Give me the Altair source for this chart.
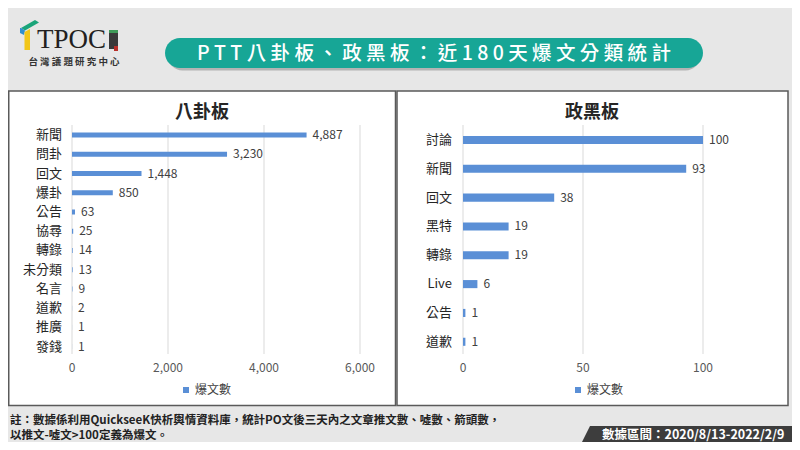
import altair as alt
import pandas as pd

# ---------------- data ----------------
bagua_categories = ["新聞", "問卦", "回文", "爆卦", "公告", "協尋", "轉錄", "未分類", "名言", "道歉", "推廣", "發錢"]
bagua_values = [4887, 3230, 1448, 850, 63, 25, 14, 13, 9, 2, 1, 1]
bagua_ticks = [0, 2000, 4000, 6000]

zhenghei_categories = ["討論", "新聞", "回文", "黑特", "轉錄", "Live", "公告", "道歉"]
zhenghei_values = [100, 93, 38, 19, 19, 6, 1, 1]
zhenghei_ticks = [0, 50, 100]

series_label = "爆文數"
panel_titles = ["八卦板", "政黑板"]
main_title = "PTT八卦板、政黑板：近180天爆文分類統計"
logo_text = "TPOC"
logo_sub = "台灣議題研究中心"
note_lines = [
    "註：數據係利用QuickseeK快析輿情資料庫，統計PO文後三天內之文章推文數、噓數、箭頭數，",
    "以推文-噓文>100定義為爆文。",
]
period_text = "數據區間：2020/8/13-2022/2/9"

# ---------------- styles ----------------
FONT = "Noto Sans CJK TC"
BG = "#e7e7e7"
TEAL = "#17a696"
BLUE = "#5a8fd6"
GRID = "#d9d9d9"
BORDER = "#5a5a5a"

one = pd.DataFrame({"k": [0]})


def deco_rect(x, x2, y, y2, **kw):
    return alt.Chart(one).mark_rect(**kw).encode(
        x=alt.value(x), x2=alt.value(x2), y=alt.value(y), y2=alt.value(y2)
    )


def deco_text(x, y, text, **kw):
    return alt.Chart(one).mark_text(**kw).encode(
        x=alt.value(x), y=alt.value(y), text=alt.value(text)
    )


def deco_path(path, color):
    return alt.Chart(one).mark_point(
        shape=path, size=4, filled=True, color=color, opacity=1, strokeWidth=0
    ).encode(x=alt.value(0), y=alt.value(0))


Y0, Y1 = 117.5, 348.2


def panel(cats, vals, ticks, xmax, x0, x1, pad, cat_x, legend_x):
    df = pd.DataFrame({"cat": cats, "val": vals, "series": [series_label] * len(cats)})
    tdf = pd.DataFrame({"val": ticks})
    xs = alt.Scale(domain=[0, xmax], range=[x0, x1], nice=False, zero=True)
    ys = alt.Scale(domain=cats, range=[Y0, Y1], paddingInner=pad, paddingOuter=pad / 2)
    X = alt.X("val:Q", scale=xs, axis=None)
    Y = alt.Y("cat:N", scale=ys, axis=None)
    grid = alt.Chart(tdf).mark_rule(color=GRID, strokeWidth=1).encode(
        x=X, y=alt.value(117), y2=alt.value(346)
    )
    ticklab = alt.Chart(tdf).mark_text(
        font=FONT, fontSize=12, color="#595959", baseline="middle"
    ).encode(x=X, y=alt.value(360), text=alt.Text("val:Q", format=","))
    bars = alt.Chart(df).mark_bar().encode(
        x=X,
        y=Y,
        color=alt.Color(
            "series:N",
            scale=alt.Scale(range=[BLUE]),
            legend=alt.Legend(
                title=None,
                orient="none",
                legendX=legend_x,
                legendY=376,
                padding=0,
                symbolType="square",
                symbolSize=36,
                symbolStrokeWidth=0,
                labelFont=FONT,
                labelFontSize=12,
                labelColor="#404040",
                labelOffset=3,
            ),
        ),
    )
    vlab = alt.Chart(df).mark_text(
        align="left", dx=6, font=FONT, fontSize=12, color="#404040", baseline="middle"
    ).encode(x=X, y=Y, text=alt.Text("val:Q", format=","))
    clab = alt.Chart(df).mark_text(
        align="right", font=FONT, fontSize=13, color="#262626", baseline="middle"
    ).encode(x=alt.value(cat_x), y=Y, text="cat:N")
    return alt.layer(grid, bars, vlab, clab, ticklab)


layers = [
    # panels
    deco_rect(0.75, 387.5, 83, 397.5, fill="white", stroke=BORDER, strokeWidth=1.5),
    deco_rect(389, 780, 83, 397.5, fill="white", stroke=BORDER, strokeWidth=1.5),
    # banner shadow + banner
    deco_rect(160, 692, 33.5, 62.5, cornerRadius=15, color="#8a8a8a", opacity=0.55),
    deco_rect(157, 695, 30, 60, cornerRadius=15, color=TEAL),
    deco_text(426, 45.5, " ".join(main_title), font=FONT, fontSize=19.5, fontWeight=500,
              color="white", align="center", baseline="middle"),
    # logo
    deco_path("M 13 20 L 27 12 L 31 14.5 L 17 22.5 Z", "#1aa57a"),
    deco_path("M 12 20 L 13 20 L 17 22.5 L 16 27 L 12 25 Z", "#2f8fd0"),
    deco_path("M 16.5 24 L 22 21 L 22 42 L 16.5 42 Z", "#f2c618"),
    deco_text(29, 40, logo_text, font="Liberation Serif", fontSize=27, color="#231f20",
              align="left", baseline="alphabetic"),
    deco_rect(101, 110, 22, 41, color="#3a3a3a"),
    deco_rect(101, 110, 22, 25, color="#3f9a58"),
    deco_rect(106, 110, 38, 43, color="#b8302a"),
    deco_text(66, 54, " ".join(logo_sub), font=FONT, fontSize=9.5, fontWeight="bold",
              color="#333333", align="center", baseline="middle"),
    # panel titles
    deco_text(194, 105, panel_titles[0], font=FONT, fontSize=18, fontWeight="bold",
              color="#262626", align="center", baseline="middle"),
    deco_text(584, 105, panel_titles[1], font=FONT, fontSize=18, fontWeight="bold",
              color="#262626", align="center", baseline="middle"),
    # chart panels
    panel(bagua_categories, bagua_values, bagua_ticks, 6000, 64, 352, 0.74, 54, 172),
    panel(zhenghei_categories, zhenghei_values, zhenghei_ticks, 100, 455, 695, 0.72, 444, 564),
    # footer note
    alt.Chart(one).mark_text(
        font=FONT, fontSize=11.5, fontWeight="bold", color="#222222", align="left",
        baseline="middle", lineHeight=15
    ).encode(x=alt.value(2), y=alt.value(413), text=alt.value(note_lines)),
    # period box
    deco_path("M -11 16 L -3 0 L 215 0 L 215 16 Z", "#3d3d3d").encode(
        x=alt.value(585), y=alt.value(418)
    ),
    deco_text(594, 426.5, period_text, font=FONT, fontSize=12.5, fontWeight="bold",
              color="white", align="left", baseline="middle"),
]

chart = (
    alt.layer(*layers)
    .resolve_scale(x="independent", y="independent", color="independent")
    .resolve_legend(color="independent")
    .properties(
        width=784,
        height=434,
        padding=0,
        background=BG,
        autosize=alt.AutoSizeParams(type="none"),
    )
    .configure_view(stroke="transparent")
)

chart.save("out.html", embed_options={"renderer": "svg", "actions": False})
